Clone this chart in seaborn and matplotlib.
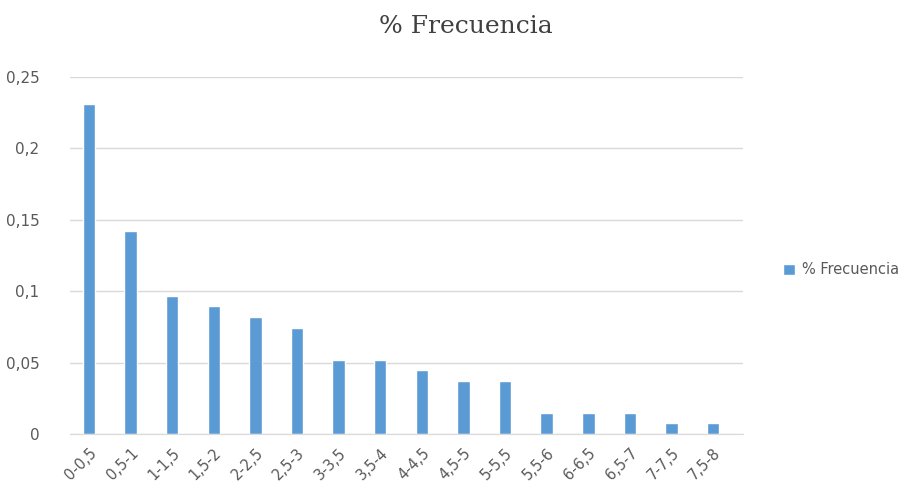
import pandas as pd
import numpy as np
import matplotlib
matplotlib.use("Agg")
import matplotlib.pyplot as plt
import seaborn as sns

# ==========================
# DATA
# ==========================
intervalos = ["0-0,5", "0,5-1", "1-1,5", "1,5-2", "2-2,5", "2,5-3", "3-3,5", "3,5-4",
              "4-4,5", "4,5-5", "5-5,5", "5,5-6", "6-6,5", "6,5-7", "7-7,5", "7,5-8"]
frecuencia = [0.2313, 0.1418, 0.0970, 0.0896, 0.0821, 0.0746, 0.0522, 0.0522,
              0.0448, 0.0373, 0.0373, 0.0149, 0.0149, 0.0149, 0.0075, 0.0075]
y_ticks = [0, 0.05, 0.1, 0.15, 0.2, 0.25]
y_labels = ["0", "0,05", "0,1", "0,15", "0,2", "0,25"]

df = pd.DataFrame({"Intervalo": intervalos, "Frecuencia": frecuencia})

# ==========================
# PLOT
# ==========================
sns.set_style("white")
plt.rcParams["font.family"] = ["DejaVu Sans"]

fig = plt.figure(figsize=(9.17, 4.99), dpi=100)
ax = fig.add_axes([0.0763, 0.130, 0.734, 0.716])

sns.barplot(
    data=df,
    x="Intervalo",
    y="Frecuencia",
    color="#5B9BD5",
    saturation=1,
    width=0.3,
    label="% Frecuencia",
    ax=ax
)

ax.set_xlim(-0.457, 15.72)
ax.set_ylim(0, 0.25)
ax.set_yticks(y_ticks)
ax.set_yticklabels(y_labels, color="#595959", fontsize=11)
ax.set_xticks(range(len(intervalos)))
ax.set_xticklabels(intervalos, rotation=45, ha="right", rotation_mode="anchor",
                   color="#595959", fontsize=10.5)
ax.tick_params(axis="x", length=0, pad=8)
ax.tick_params(axis="y", length=0, pad=22)
ax.set_xlabel("")
ax.set_ylabel("")

ax.grid(axis="y", color="#D9D9D9", linewidth=1)
ax.set_axisbelow(True)
for side in ["top", "right", "left"]:
    ax.spines[side].set_visible(False)
ax.spines["bottom"].set_color("#D9D9D9")

fig.suptitle("% Frecuencia", x=0.508, y=0.97, fontsize=18,
             family="DejaVu Serif", color="#404040")

ax.legend(loc="center left", bbox_to_anchor=(1.04, 0.46), frameon=False,
          handlelength=0.8, handleheight=0.8, handletextpad=0.5,
          labelcolor="#595959", fontsize=10.5)

plt.savefig("out.png", dpi=100)
plt.close()
